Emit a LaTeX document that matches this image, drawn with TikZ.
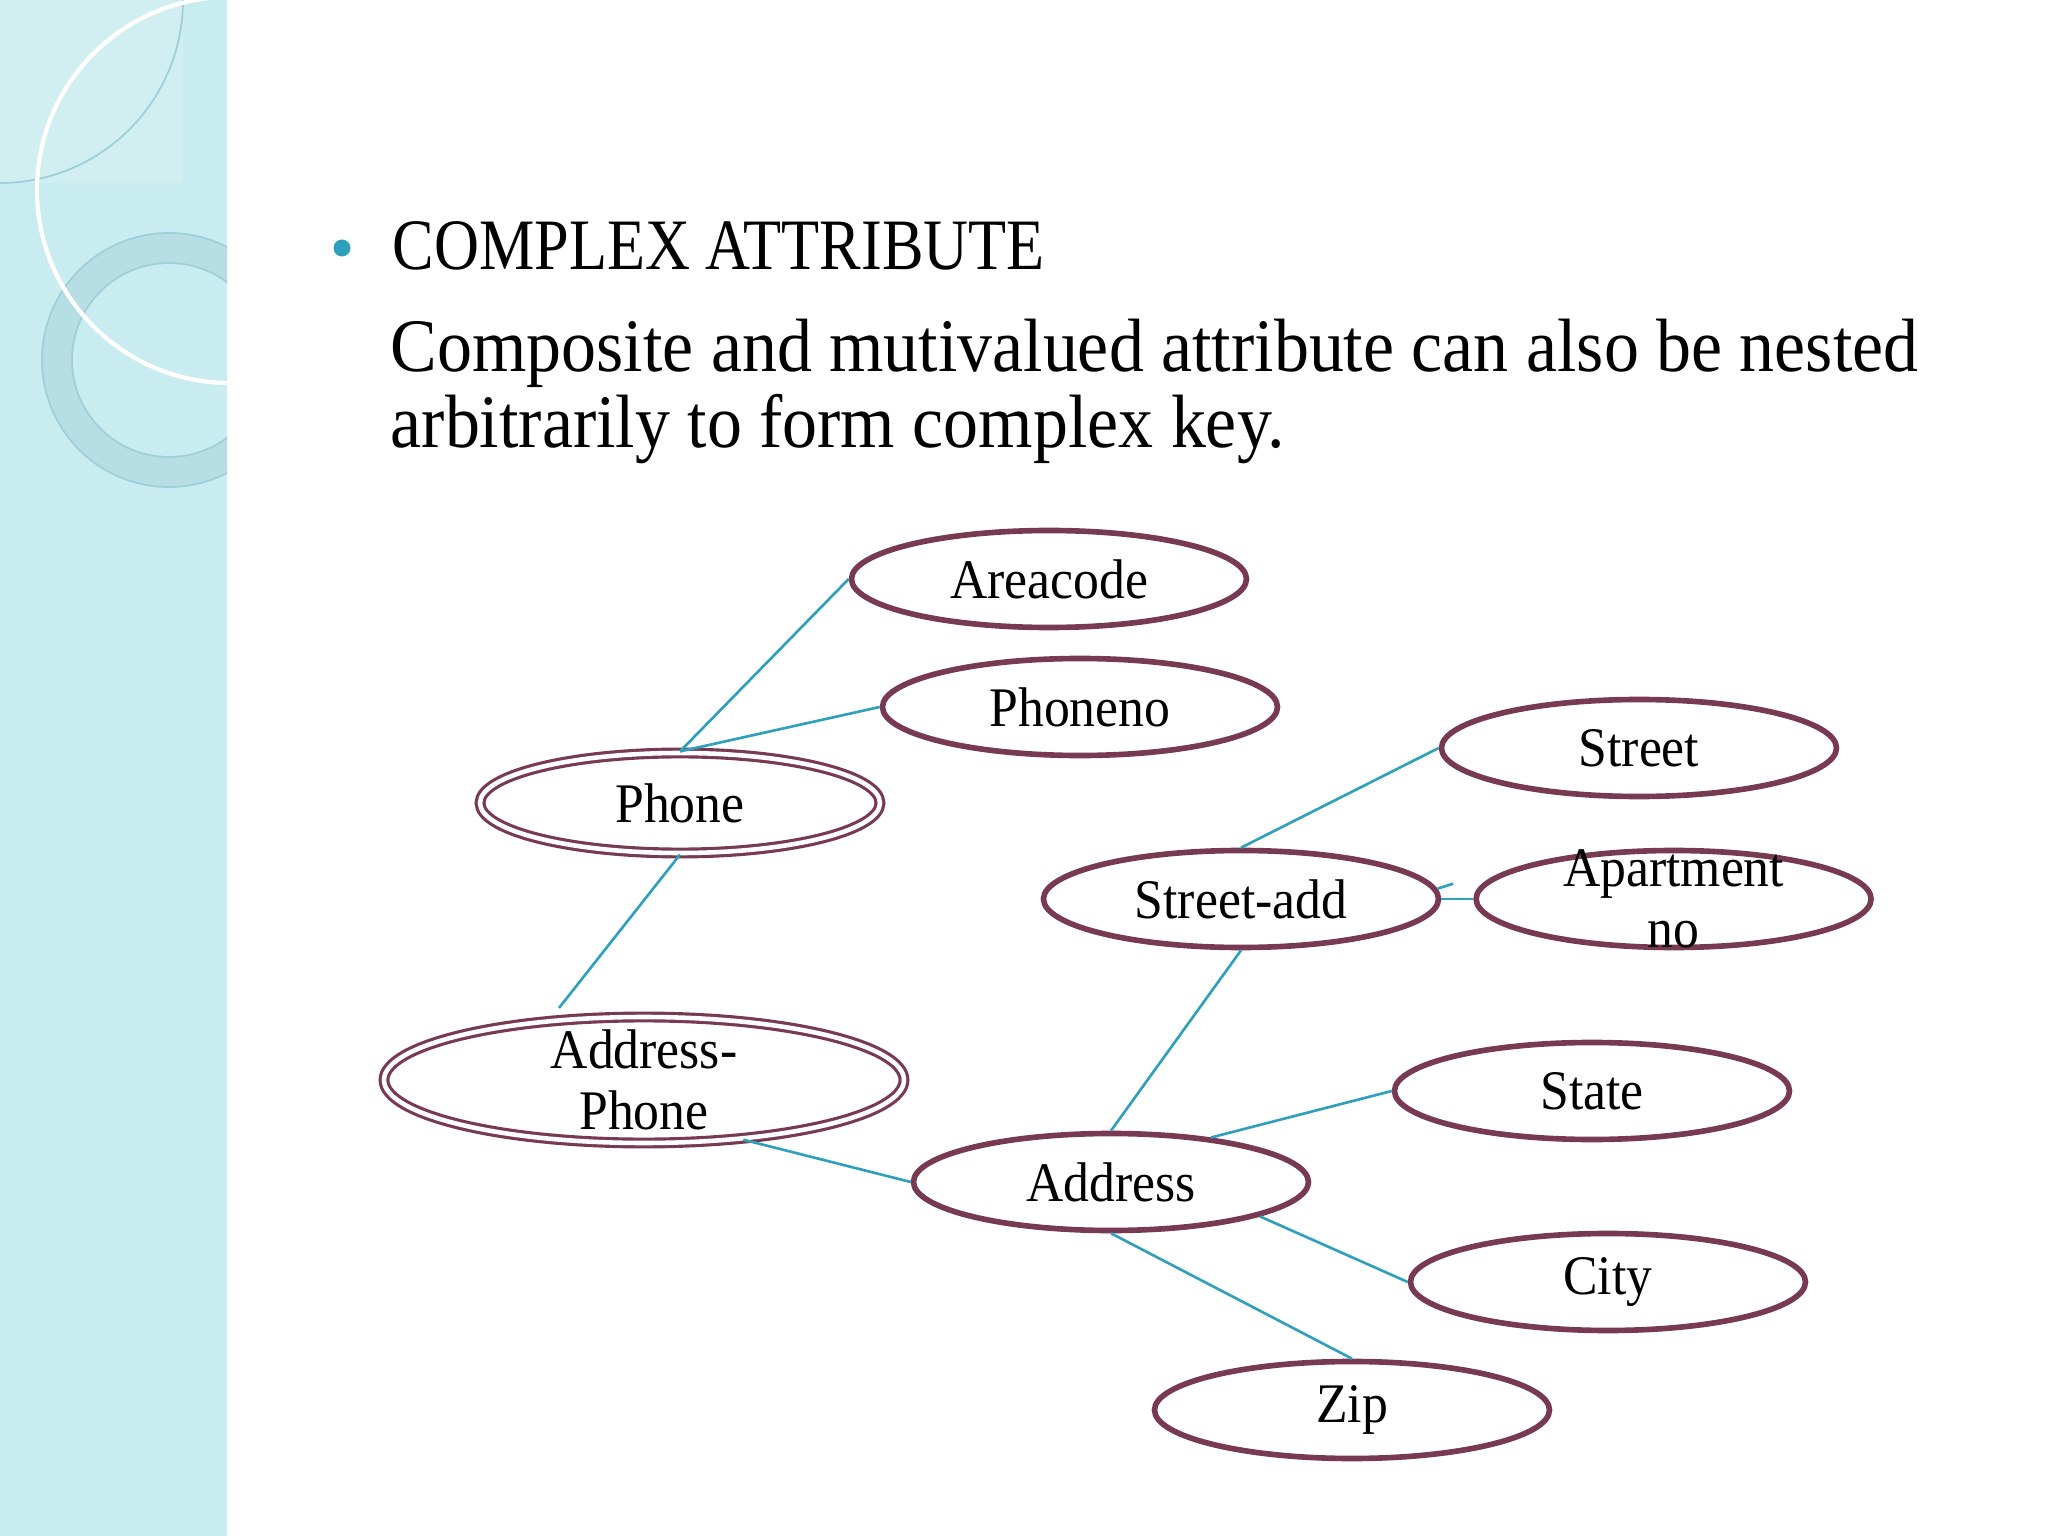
\documentclass[tikz,border=0pt]{standalone}
\usepackage{fontspec}
\setmainfont{Liberation Serif}[FakeStretch=0.925]
\newfontfamily\headfont{Liberation Serif}[FakeStretch=0.86]
\usepackage{tikz}
\usetikzlibrary{shapes.geometric}
\usetikzlibrary{positioning}

\definecolor{bandcyan}{HTML}{C8ECEF}
\definecolor{ringcyan}{HTML}{B6DEE4}
\definecolor{ringedge}{HTML}{9FCFD8}
\definecolor{erlink}{HTML}{2FA0BC}
\definecolor{ermaroon}{HTML}{783A52}

\begin{document}
\begin{tikzpicture}
			[
				myattr/.style = {draw = ermaroon, ellipse, line width = 1.6pt, inner sep = 0pt, minimum width = 3.95cm, minimum height = 0.97cm, font = \fontsize{15.9}{17.5}\selectfont},
				mymulti/.style = {myattr, line width = 0.9pt, double = white, double distance = 1.3pt},
				mytext/.style = {inner sep = 0pt, align = center, font = \fontsize{15.9}{17.5}\selectfont},
				mylink/.style = {draw = erlink, line width = 0.75pt}
			]
			%
			\useasboundingbox (0,0) rectangle (20.48,-15.36);
			\fill [white] (0,0) rectangle (20.48,-15.36);
			%
			% left band
			\fill [bandcyan] (0,0) rectangle (2.27,-15.36);
			\begin{scope}
				\clip (0,0) rectangle (2.27,-15.36);
				\fill [white, opacity = 0.18] (0,0) rectangle (1.83,-1.83);
				\draw [ringedge, line width = 0.5pt] (0,0) circle (1.83);
				\fill [ringcyan, even odd rule, draw = ringedge, line width = 0.5pt] (1.69,-3.60) circle (1.27) (1.69,-3.60) circle (0.97);
				\draw [white, line width = 1.2pt] (2.30,-1.90) circle (1.93);
			\end{scope}
			%
			% heading
			\node (bullet) [circle, fill = erlink, inner sep = 0pt, minimum size = 0.17cm] at (3.42,-2.48) {};
			\node (title) [anchor = base west, inner sep = 0pt, font = \headfont\fontsize{20.6}{24}\selectfont] at (3.92,-2.70) {COMPLEX ATTRIBUTE};
			\node (bodyone) [anchor = base west, inner sep = 0pt, font = \fontsize{21.5}{24}\selectfont] at (3.90,-3.72) {Composite and mutivalued attribute can also be nested};
			\node (bodytwo) [anchor = base west, inner sep = 0pt, font = \fontsize{21.5}{24}\selectfont] at (3.90,-4.48) {arbitrarily to form complex key.};
			%
			% attributes
			\node (areacode) [myattr] at (10.49,-5.79) {Areacode};
			\node (phoneno) [myattr] at (10.80,-7.07) {Phoneno};
			\node (phone) [mymulti, minimum width = 4.0cm, minimum height = 1.0cm] at (6.80,-8.03) {Phone};
			\node (addrphone) [mymulti, minimum width = 5.2cm, minimum height = 1.26cm] at (6.44,-10.80) {};
			\node (addrphonetext) [mytext] at (addrphone.center) {Address-\\Phone};
			%
			\node (streetadd) [myattr] at (12.41,-8.99) {Street-add};
			\node (apartment) [myattr, right = 0.32cm of streetadd] {};
			\node (apartmenttext) [mytext] at (apartment.center) {Apartment\\no};
			\node (street) [myattr] at (16.39,-7.48) {Street};
			%
			\node (address) [myattr] at (11.11,-11.82) {Address};
			\node (state) [myattr] at (15.92,-10.91) {State};
			\node (city) [myattr] at (16.08,-12.82) {City};
			\node (zip) [myattr] at (13.52,-14.10) {Zip};
			%
			% links
			\draw [mylink] (areacode.west) -- (phone.north);
			\draw [mylink] (phoneno.west) -- (phone.north);
			\coordinate (apend) at (5.59,-10.08);
			\draw [mylink] (phone.south) -- (apend);
			\draw [mylink] (addrphone.-31) -- (address.west);
			%
			\draw [mylink] (streetadd.north) -- (street.west);
			\draw [mylink] (streetadd.east) -- (apartment.west);
			\draw [mylink] (streetadd.3) -- ++(0.16,0.05);
			\draw [mylink] (streetadd.south) -- (address.north);
			%
			\draw [mylink] (address.24) -- (state.west);
			\draw [mylink] (address.-13) -- (city.west);
			\draw [mylink] (address.south) -- (zip.north);
			%
		\end{tikzpicture}
\end{document}
